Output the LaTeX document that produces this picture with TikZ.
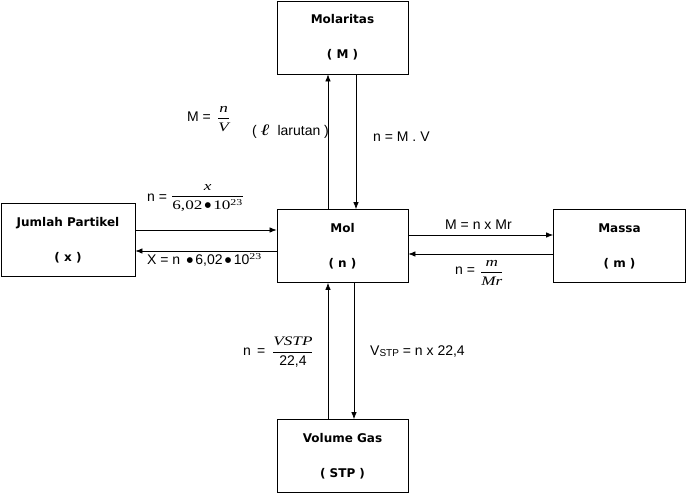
\documentclass[tikz,border=0pt]{standalone}
\usepackage{fontspec}
\setmainfont{Liberation Sans}
\newfontfamily\tnr[FakeStretch=1.32]{Liberation Serif}
\newfontfamily\bx{DejaVu Sans}
\usetikzlibrary{arrows.meta}
\newcommand{\vr}[1]{\hbox{\tnr\itshape\fontsize{13}{15}\selectfont #1}}
\newcommand{\ur}[1]{\hbox{\tnr\fontsize{13}{15}\selectfont #1}}
\newcommand{\sur}[1]{\hbox{\tnr\fontsize{9}{10}\selectfont #1}}
\newcommand{\bul}{\raisebox{2.6pt}{\bx\fontsize{7.5}{8}\selectfont ●}}
\newcommand{\fr}[2]{$\displaystyle\frac{#1}{#2}$}
\begin{document}
\begin{tikzpicture}[x=1pt,y=-1pt,
  box/.style={draw,line width=0.8pt,minimum width=131pt,minimum height=73pt,inner sep=0pt,
    align=center,font=\bx\bfseries\fontsize{12}{14}\selectfont},
  arr/.style={line width=0.7pt,-{Latex[length=7pt,width=5.5pt]}},
  lbl/.style={inner sep=0pt,font=\fontsize{14}{16}\selectfont}]
\useasboundingbox (0,0) rectangle (687,495);
\node[box] (M) at (342.5,37.5) {Molaritas\\[21pt]( M )};
\node[box] (mol) at (342.5,246) {Mol\\[21pt]( n )};
\node[box] (V) at (342.5,456) {Volume Gas\\[21pt]( STP )};
\node[box,minimum width=134pt] (J) at (68,240) {Jumlah Partikel\\[21pt]( x )};
\node[box,minimum width=132pt] (Ms) at (619.5,246) {Massa\\[21pt]( m )};
% vertical arrows top
\draw[arr] ([xshift=-14.5pt]mol.north) -- ([xshift=-14.5pt]mol.north |- M.south);
\draw[arr] ([xshift=13.5pt]mol.north |- M.south) -- ([xshift=13.5pt]mol.north);
% vertical arrows bottom
\draw[arr] ([xshift=-14.5pt]V.north) -- ([xshift=-14.5pt]V.north |- mol.south);
\draw[arr] ([xshift=11.5pt]V.north |- mol.south) -- ([xshift=11.5pt]V.north);
% horizontal left
\draw[arr] ([yshift=10pt]J.east) -- ([yshift=10pt]J.east -| mol.west);
\draw[arr] ([yshift=-11pt]J.east -| mol.west) -- ([yshift=-11pt]J.east);
% horizontal right
\draw[arr] ([yshift=11pt]mol.east) -- ([yshift=11pt]mol.east -| Ms.west);
\draw[arr] ([yshift=-8pt]mol.east -| Ms.west) -- ([yshift=-8pt]mol.east);
% labels
\node[lbl,anchor=west] (l1a) at (187,117) {M =};
\node[lbl,anchor=west] (l1b) at (217,119) {\fr{\vr{n}}{\vr{V}}};
\node[lbl,anchor=west] (l1c) at (252,132) {( {\tnr\bfseries\itshape\fontsize{16}{16}\selectfont ℓ}\ \ larutan )};
\node[lbl,anchor=west] (l2) at (373,137) {n = M . V};
\node[lbl,anchor=west] (l3a) at (147,198) {n =};
\node[lbl,anchor=west] (l3b) at (171,198) {\fr{\vr{x}}{\ur{6,02\,\bul\,10$^{\sur{23}}$}}};
\node[lbl,anchor=west] (l4) at (147,260) {X = n \,\bul\,6,02\,\bul\,10$^{\sur{23}}$};
\node[lbl,anchor=west] (l5) at (445,225) {M = n x Mr};
\node[lbl,anchor=west] (l6a) at (455,271) {n =};
\node[lbl,anchor=west] (l6b) at (480,273) {\fr{\vr{m}}{\vr{Mr}}};
\node[lbl,anchor=west] (l7a) at (243,352) {n \,=};
\node[lbl,anchor=west] (l7b) at (272,352) {\fr{\vr{VSTP}}{\hbox{22,4}}};
\node[lbl,anchor=west] (l8) at (370,352) {V\raisebox{-1pt}{\fontsize{10}{10}\selectfont STP} = n x 22,4};
\end{tikzpicture}
\end{document}
